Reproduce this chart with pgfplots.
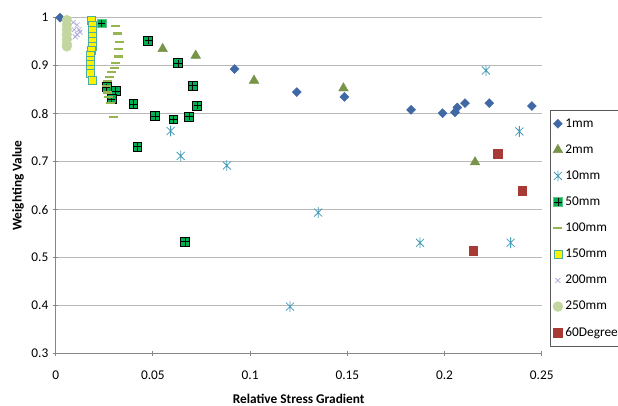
\documentclass[border=0pt]{standalone}
\usepackage{pgfplots}
\pgfplotsset{compat=1.18}
\usepackage{fontspec}
\setmainfont{Carlito}
\definecolor{c1}{RGB}{64,104,165}
\definecolor{c2}{RGB}{120,148,72}
\definecolor{c10}{RGB}{70,155,185}
\definecolor{c50}{RGB}{0,176,80}
\definecolor{c50e}{RGB}{90,200,130}
\definecolor{c100}{RGB}{150,180,80}
\definecolor{c150e}{RGB}{75,172,160}
\definecolor{c200}{RGB}{165,165,215}
\definecolor{c250}{RGB}{195,214,160}
\definecolor{c60}{RGB}{168,58,54}
\definecolor{gridc}{RGB}{185,185,185}
\definecolor{axc}{RGB}{134,134,134}
\pgfdeclareplotmark{sqplus}{%
  \pgfpathrectangle{\pgfqpoint{-\pgfplotmarksize}{-\pgfplotmarksize}}{\pgfqpoint{2\pgfplotmarksize}{2\pgfplotmarksize}}%
  \pgfusepathqfillstroke
  \pgfsetstrokecolor{black}%
  \pgfpathmoveto{\pgfqpoint{-0.85\pgfplotmarksize}{0pt}}%
  \pgfpathlineto{\pgfqpoint{0.85\pgfplotmarksize}{0pt}}%
  \pgfpathmoveto{\pgfqpoint{0pt}{-0.85\pgfplotmarksize}}%
  \pgfpathlineto{\pgfqpoint{0pt}{0.85\pgfplotmarksize}}%
  \pgfusepathqstroke
}
\pgfdeclareplotmark{xstar}{%
  \pgfpathmoveto{\pgfqpoint{0pt}{-\pgfplotmarksize}}%
  \pgfpathlineto{\pgfqpoint{0pt}{\pgfplotmarksize}}%
  \pgfpathmoveto{\pgfqpoint{-0.75\pgfplotmarksize}{-0.75\pgfplotmarksize}}%
  \pgfpathlineto{\pgfqpoint{0.75\pgfplotmarksize}{0.75\pgfplotmarksize}}%
  \pgfpathmoveto{\pgfqpoint{-0.75\pgfplotmarksize}{0.75\pgfplotmarksize}}%
  \pgfpathlineto{\pgfqpoint{0.75\pgfplotmarksize}{-0.75\pgfplotmarksize}}%
  \pgfusepathqstroke
}
\begin{document}
\begin{tikzpicture}
\path[use as bounding box] (0,0) rectangle (463.5pt,303.75pt);
\begin{axis}[
  at={(41.8pt,38.5pt)}, anchor=south west,
  width=364.5pt, height=252pt, scale only axis,
  xmin=0, xmax=0.25, ymin=0.3, ymax=1,
  xtick={0,0.05,...,0.25}, ytick={0.3,0.4,...,1.0},
  xticklabels={0,0.05,0.1,0.15,0.2,0.25},
  yticklabels={0.3,0.4,0.5,0.6,0.7,0.8,0.9,1},
  axis x line*=bottom, axis y line*=left,
  axis line style={axc, line width=0.75pt},
  tick style={axc, line width=0.75pt},
  tick align=center, major tick length=4pt,
  ymajorgrids, grid style={gridc, line width=0.75pt},
  clip=false,
  tick label style={font=\fontsize{10}{12}\selectfont},
  xticklabel style={yshift=-7pt},
  /pgf/number format/assume math mode=true,
  xlabel={\textbf{Relative Stress Gradient}},
  ylabel={\textbf{Weighting Value}},
  label style={font=\fontsize{10}{12}\selectfont},
  xlabel style={at={(axis description cs:0.5,-0.135)}, anchor=center},
  ylabel style={at={(axis description cs:-0.0776,0.5)}, anchor=center},
  legend style={at={(axis description cs:1.017,0.725)}, anchor=north west,
    draw=black!65, line width=0.6pt, font=\fontsize{10}{12}\selectfont,
    row sep=7.6pt, inner xsep=2pt, inner ysep=4pt},
  legend cell align=left,
]
\addplot[only marks, mark=square*, mark size=2.4pt, mark options={rotate=45, fill=c1, draw=c1, line width=0.3pt}] coordinates {
(0.0022,1.0) (0.092,0.893) (0.124,0.845) (0.1485,0.835) (0.1828,0.808) (0.199,0.801)
(0.2054,0.803) (0.2066,0.813) (0.2105,0.822) (0.223,0.822) (0.2449,0.816)};
\addlegendentry{1mm}
\addplot[only marks, mark=triangle*, mark size=4.2pt, mark options={fill=c2, draw=c2, line width=0.3pt}] coordinates {
(0.055,0.935) (0.072,0.921) (0.102,0.869) (0.148,0.853) (0.2157,0.699)};
\addlegendentry{2mm}
\addplot[only marks, mark=xstar, mark size=4pt, mark options={draw=c10, line width=0.6pt}] coordinates {
(0.0591,0.764) (0.0643,0.712) (0.088,0.692) (0.1205,0.398) (0.135,0.594) (0.1874,0.531)
(0.2213,0.890) (0.234,0.531) (0.2385,0.763)};
\addlegendentry{10mm}
\addplot[only marks, mark=sqplus, mark size=3.3pt, mark options={fill=c50, draw=c50e, line width=0.6pt}] coordinates {
(0.0236,0.988) (0.0262,0.855) (0.0309,0.847) (0.0288,0.830) (0.040,0.820) (0.042,0.731)
(0.0476,0.952) (0.0511,0.795) (0.0605,0.788) (0.063,0.905) (0.0665,0.533) (0.0686,0.794)
(0.0705,0.858) (0.0728,0.817)};
\addlegendentry{50mm}
\addplot[only marks, mark=-, mark size=3.4pt, mark options={draw=c100, line width=1.6pt}] coordinates {
(0.0309,0.983) (0.0319,0.967) (0.0326,0.950) (0.0322,0.935) (0.0322,0.919) (0.0309,0.906)
(0.030,0.896) (0.0288,0.886) (0.0276,0.877) (0.0266,0.868) (0.0259,0.858) (0.0266,0.844)
(0.0271,0.834) (0.0283,0.822) (0.0298,0.793)};
\addlegendentry{100mm}
\addplot[only marks, mark=square*, mark size=3pt, mark options={fill=yellow, draw=c150e, line width=0.6pt}] coordinates {
(0.0185,0.994) (0.0189,0.983) (0.0189,0.973) (0.019,0.962) (0.019,0.951) (0.0189,0.941)
(0.0185,0.931) (0.018,0.921) (0.0176,0.912) (0.0176,0.903) (0.0178,0.892) (0.018,0.883)
(0.0189,0.870)};
\addlegendentry{150mm}
\addplot[only marks, mark=x, mark size=2.6pt, mark options={draw=c200, line width=0.5pt}] coordinates {
(0.009,0.99) (0.011,0.985) (0.012,0.975) (0.0125,0.97) (0.011,0.965) (0.010,0.96) (0.0095,0.975)};
\addlegendentry{200mm}
\addplot[only marks, mark=*, mark size=3.6pt, mark options={fill=c250, draw=c250}] coordinates {
(0.0057,0.995) (0.0057,0.985) (0.0057,0.975) (0.0057,0.965) (0.0057,0.955) (0.0057,0.945) (0.0057,0.940)};
\addlegendentry{250mm}
\addplot[only marks, mark=square*, mark size=3.3pt, mark options={fill=c60, draw=c60}] coordinates {
(0.2148,0.515) (0.2274,0.716) (0.240,0.639)};
\addlegendentry{60Degree}
\end{axis}
\end{tikzpicture}
\end{document}
